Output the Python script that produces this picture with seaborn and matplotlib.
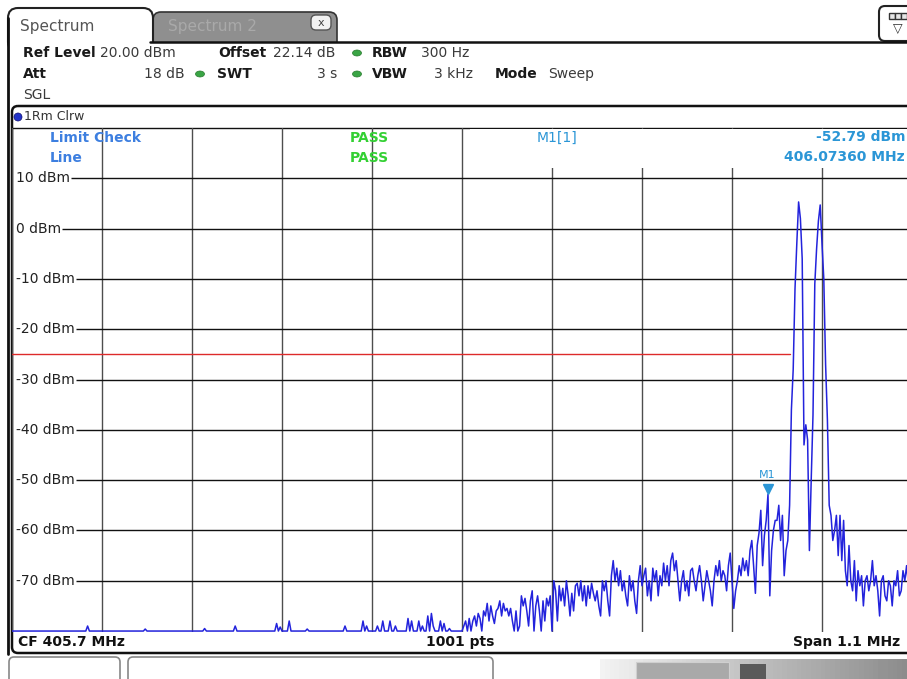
import numpy as np
import matplotlib
matplotlib.use("Agg")
import matplotlib.pyplot as plt
import matplotlib.transforms as mtransforms
from matplotlib.patches import Rectangle, FancyBboxPatch, Ellipse, Circle
import seaborn as sns

# sweep settings
center_mhz = 405.7
span_mhz = 1.1
level_top = 20
level_bottom = -80
level_ticks = [10, 0, -10, -20, -30, -40, -50, -60, -70]
limit_dbm = -25
limit_stop_mhz = 406.101
marker_mhz = 406.07360
marker_dbm = -52.79

# trace, every 2nd of the 1001 sweep points (dBm), 25 values per row
trace_dbm = [
    -80, -80, -80, -80, -80, -80, -80, -80, -80, -80, -80, -80, -80, -80, -80, -80, -80, -80, -80, -80, -80, -80, -80, -80, -80,
    -80, -80, -80, -80, -80, -80, -80, -80, -80, -80, -80, -80, -80, -80, -80, -80, -80, -79, -80, -80, -80, -80, -80, -80, -80,
    -80, -80, -80, -80, -80, -80, -80, -80, -80, -80, -80, -80, -80, -80, -80, -80, -80, -80, -80, -80, -80, -80, -80, -80, -79.6,
    -80, -80, -80, -80, -80, -80, -80, -80, -80, -80, -80, -80, -80, -80, -80, -80, -80, -80, -80, -80, -80, -80, -80, -80, -80,
    -80, -80, -80, -80, -80, -80, -80, -79.5, -80, -80, -80, -80, -80, -80, -80, -80, -80, -80, -80, -80, -80, -80, -80, -80, -79,
    -80, -80, -80, -80, -80, -80, -80, -80, -80, -80, -80, -80, -80, -80, -80, -80, -80, -80, -80, -80, -80, -80, -78.5, -80, -79.2,
    -80, -80, -80, -80, -78, -80, -80, -80, -80, -80, -80, -80, -80, -80, -79.6, -80, -80, -80, -80, -80, -80, -80, -80, -80, -80,
    -80, -80, -80, -80, -80, -80, -80, -80, -80, -80, -79, -80, -80, -80, -80, -80, -80, -80, -80, -80, -78, -80, -79, -80, -80,
    -80, -80, -80, -79, -80, -80, -78, -80, -80, -80, -78, -80, -80, -79, -80, -80, -80, -80, -80, -80, -77.5, -80, -78, -80, -80,
    -80, -78, -80, -79, -80, -80, -77, -80, -76.5, -79, -80, -80, -80, -78, -80, -78.5, -80, -80, -79.5, -80, -80, -80, -80, -80, -80,
    -80, -79, -78, -80, -77.5, -80, -78, -77, -79, -76.5, -77.5, -80, -76, -77, -74.5, -78, -75, -77, -78.5, -76, -75.5, -74, -77, -74.5, -76,
    -75.5, -77, -75.5, -78, -80, -76, -80, -79, -73, -75, -73.5, -76, -79, -74, -72, -80, -75, -73, -76, -80, -74, -78, -73.5, -75, -73,
    -80, -70, -72, -78, -71, -74, -71.5, -75, -70, -73, -77, -72.5, -76, -71, -70.5, -73, -70, -74, -71, -75, -71, -73.5, -70.5, -72.5, -74,
    -72, -75, -77, -70, -72, -70, -74, -77, -69, -66, -70, -67.5, -71, -68, -72, -70, -73, -75, -69, -72, -70, -74, -76.5, -70, -67,
    -71, -69, -67.5, -73, -70, -74, -67.5, -70, -68, -73, -69, -71, -66.5, -70, -67, -71, -66, -64.5, -68, -66, -70, -74, -70, -68, -72,
    -70, -73, -68, -67.5, -70, -72, -69, -67, -70, -74, -71, -68, -70, -72, -75, -70, -67, -69, -66, -70, -68, -69, -72, -67, -64.5,
    -70, -75.5, -72, -70, -67, -69, -65.5, -68, -66, -69, -64, -62, -67, -72.5, -63, -60.5, -56, -67, -61, -58, -52.8, -73, -64, -60, -58,
    -58, -55, -62, -57, -69, -64, -62, -55, -36, -28, -12, -3, 5.3, 2, -6, -43, -39, -42, -64, -50, -37, -11, -4, 1.5, 4.7,
    -3, -10, -27, -38, -55, -57, -62, -60, -57, -65, -57, -66, -58, -68, -71, -63, -70, -72, -66, -74, -68, -71, -69, -75, -70,
    -69, -72, -70, -66, -71, -69, -72, -77, -70, -69, -73, -74, -70, -71, -75, -70, -71, -68, -73, -72, -68, -70, -67, -71, -69,
    -70,
]
assert len(trace_dbm) == 501, len(trace_dbm)

TRACE = "#2323dc"
MARK = "#2b96d6"
BLUE_TXT = "#3d7fe0"
GREEN = "#33d033"

sns.set_style("white")
plt.rcParams["font.family"] = ["DejaVu Sans"]

fig = plt.figure(figsize=(9.07, 6.79), dpi=100)

# screen furniture in pixel coordinates
bg = fig.add_axes([0, 0, 1, 1])
bg.set_xlim(0, 907)
bg.set_ylim(679, 0)
bg.axis("off")

bg.add_patch(FancyBboxPatch((153, 12), 184, 40, boxstyle="round,pad=0,rounding_size=8",
                            fc="#8f8f8f", ec="#333333", lw=1.2))
bg.text(168, 26, "Spectrum 2", fontsize=11, color="#a9a9a9", va="center")
bg.add_patch(FancyBboxPatch((311, 15), 20, 15, boxstyle="round,pad=0,rounding_size=5",
                            fc="#f2f2f2", ec="#555555", lw=1))
bg.text(321, 22.5, "x", fontsize=8, color="#444444", ha="center", va="center")
bg.add_patch(FancyBboxPatch((8, 8), 145, 44, boxstyle="round,pad=0,rounding_size=10",
                            fc="white", ec="#222222", lw=1.5))
bg.text(20, 26, "Spectrum", fontsize=11, color="#555555", va="center")
bg.add_patch(Rectangle((9, 43), 898, 62, fc="white", ec="none"))
bg.plot([150, 907], [42, 42], color="#111111", lw=1.8)
bg.plot([8, 8], [18, 654], color="#111111", lw=2)

# top right icon
bg.add_patch(FancyBboxPatch((879, 6), 40, 35, boxstyle="round,pad=0,rounding_size=6",
                            fc="white", ec="#222222", lw=1.5))
for sx in (889, 895, 901):
    bg.add_patch(Rectangle((sx, 13), 6, 6, fc="#e6e6e6", ec="#333333", lw=1))
bg.text(898, 29, "\u25bd", fontsize=9, color="#333333", ha="center", va="center")

# setting lines
bold = dict(fontsize=10, fontweight="bold", color="#1a1a1a", va="center")
reg = dict(fontsize=10, color="#3a3a3a", va="center")
bg.text(23, 53, "Ref Level", **bold)
bg.text(100, 53, "20.00 dBm", **reg)
bg.text(218, 53, "Offset", **bold)
bg.text(273, 53, "22.14 dB", **reg)
bg.text(372, 53, "RBW", **bold)
bg.text(421, 53, "300 Hz", **reg)
bg.text(23, 74, "Att", **bold)
bg.text(185, 74, "18 dB", ha="right", **reg)
bg.text(217, 74, "SWT", **bold)
bg.text(337, 74, "3 s", ha="right", **reg)
bg.text(372, 74, "VBW", **bold)
bg.text(473, 74, "3 kHz", ha="right", **reg)
bg.text(495, 74, "Mode", **bold)
bg.text(548, 74, "Sweep", **reg)
bg.text(23, 95, "SGL", **reg)
for cx, cy in [(357, 53), (200, 74), (357, 74)]:
    bg.add_patch(Ellipse((cx, cy), 9, 6, fc="#3aa545", ec="#2a7a30", lw=0.5))

# trace window frame
bg.add_patch(FancyBboxPatch((12, 106), 920, 547, boxstyle="round,pad=0,rounding_size=6",
                            fc="none", ec="#111111", lw=1.8))
bg.plot([12, 907], [128, 128], color="#111111", lw=1)
bg.add_patch(Circle((18, 117), 4, fc="#2232c8", ec="#101070", lw=0.5))
bg.text(24, 117, "1Rm Clrw", fontsize=9, color="#333333", va="center")

# footer
foot = dict(fontsize=10, fontweight="bold", color="#111111", va="center")
bg.text(18, 642, "CF 405.7 MHz", **foot)
bg.text(460, 642, "1001 pts", ha="center", **foot)
bg.text(900, 642, "Span 1.1 MHz", ha="right", **foot)

# softkey strip
bg.add_patch(FancyBboxPatch((9, 657), 111, 40, boxstyle="round,pad=0,rounding_size=5",
                            fc="white", ec="#888888", lw=1.2))
bg.add_patch(FancyBboxPatch((128, 657), 365, 40, boxstyle="round,pad=0,rounding_size=5",
                            fc="white", ec="#888888", lw=1.2))
grad = np.linspace(0.95, 0.55, 64)[None, :]
bg.imshow(grad, extent=(600, 907, 679, 659), cmap="gray", vmin=0, vmax=1, aspect="auto")
bg.add_patch(Rectangle((636, 662), 93, 17, fc="#a9a9a9", ec="#cfcfcf", lw=0.8))
bg.add_patch(Rectangle((740, 664), 26, 15, fc="#5a5a5a", ec="none"))
bg.set_xlim(0, 907)
bg.set_ylim(679, 0)

# spectrum diagram
f_start = center_mhz - span_mhz / 2
f_stop = center_mhz + span_mhz / 2
freq_mhz = np.linspace(f_start, f_stop, len(trace_dbm))

ax = fig.add_axes([12 / 907, (679 - 632.3) / 679, 900 / 907, (632.3 - 128) / 679])
ax.set_facecolor("none")
ax.set_zorder(2)
sns.lineplot(x=freq_mhz, y=trace_dbm, ax=ax, color=TRACE, lw=1.1, estimator=None, zorder=3)
ax.plot([f_start, limit_stop_mhz], [limit_dbm, limit_dbm], color="#dd2a2a", lw=1, zorder=2)

ax.set_xlim(f_start, f_stop)
ax.set_ylim(level_bottom - 0.25, level_top)
ax.set_xticks(np.linspace(f_start, f_stop, 11))
ax.set_yticks(level_ticks)
ax.tick_params(length=0, labelbottom=False, labelleft=False)
ax.xaxis.grid(True, color="#4d4d4d", lw=1)
ax.yaxis.grid(False)
ax.set_axisbelow(True)
for s in ax.spines.values():
    s.set_visible(False)
ax.set_xlabel("")
ax.set_ylabel("")

# white panel behind marker readout (vertical grid stops under it)
ax.add_patch(Rectangle((0.509, 0.921), 0.5, 0.077, transform=ax.transAxes,
                       fc="white", ec="none", zorder=1))

# level labels, each horizontal grid line starts where its label ends
labels = []
for lv in level_ticks:
    t = ax.text(0.0045, lv, f"{lv} dBm", transform=ax.get_yaxis_transform(), fontsize=10,
                color="#222222", va="center", ha="left", zorder=4)
    labels.append((lv, t))
fig.canvas.draw()
inv = ax.transData.inverted()
for lv, t in labels:
    bb = t.get_window_extent()
    x_end = inv.transform((bb.x1 + 1, 0))[0]
    ax.hlines(lv, x_end, f_stop, color="#111111", lw=1, zorder=0.8)

# marker
tri = mtransforms.offset_copy(ax.transData, fig=fig, x=0, y=3.5, units="points")
ax.plot([marker_mhz], [marker_dbm], marker="v", ms=7, color=MARK, transform=tri, zorder=5)
ax.annotate("M1", (marker_mhz, marker_dbm), xytext=(0, 10), textcoords="offset points",
            ha="center", va="bottom", fontsize=8, color=MARK, zorder=5)

# readouts
ax.text(50, 138, "Limit Check", transform=bg.transData, fontsize=10, fontweight="bold",
        color=BLUE_TXT, va="center", zorder=5)
ax.text(50, 158, "Line", transform=bg.transData, fontsize=10, fontweight="bold",
        color=BLUE_TXT, va="center", zorder=5)
ax.text(350, 138, "PASS", transform=bg.transData, fontsize=10, fontweight="bold",
        color=GREEN, va="center", zorder=5)
ax.text(350, 158, "PASS", transform=bg.transData, fontsize=10, fontweight="bold",
        color=GREEN, va="center", zorder=5)
ax.text(537, 138, "M1[1]", transform=bg.transData, fontsize=10,
        color=MARK, va="center", zorder=5)
ax.text(905, 137, f"{marker_dbm:.2f} dBm", transform=bg.transData, fontsize=10,
        fontweight="bold", color=MARK, va="center", ha="right", zorder=5)
ax.text(905, 157, f"{marker_mhz:.5f} MHz", transform=bg.transData, fontsize=10,
        fontweight="bold", color=MARK, va="center", ha="right", zorder=5)

fig.savefig("out.png", dpi=100)
